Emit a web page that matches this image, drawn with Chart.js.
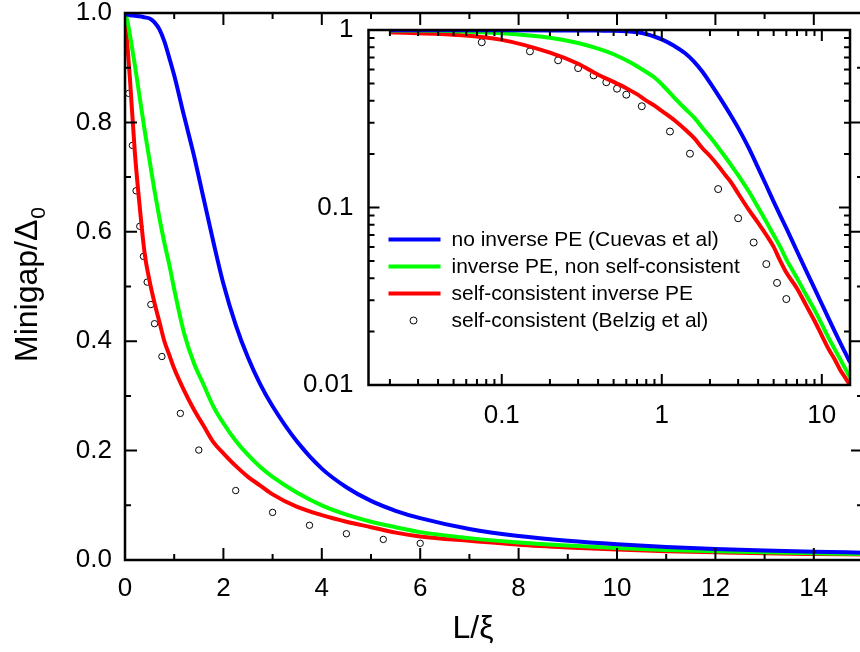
<!DOCTYPE html>
<html>
<head>
<meta charset="utf-8">
<script src="https://cdn.jsdelivr.net/npm/chart.js@4.4.1/dist/chart.umd.min.js"></script>
<style>
  html, body { margin: 0; padding: 0; background: #fff; overflow: hidden; }
  #wrap { position: relative; width: 860px; height: 652px; overflow: hidden; }
  #main { position: absolute; left: 0; top: 0; }
  #inset { position: absolute; left: 280px; top: 15px; }
</style>
</head>
<body>
<div id="wrap">
  <canvas id="main" width="870" height="652"></canvas>
  <canvas id="inset" width="580" height="420"></canvas>
</div>
<script>
// L/xi grid shared by the three computed curves
const xCurve = [0, 0.02, 0.05, 0.1, 0.2, 0.3, 0.4, 0.5, 0.6, 0.7, 0.8, 0.9, 1.0, 1.2, 1.4, 1.6, 1.8, 2.0,
    2.25, 2.5, 2.75, 3.0, 3.5, 4.0, 4.5, 5.0, 5.5, 6.0, 7.0, 8.0, 9.0, 10.0, 11.0, 12.0, 13.0, 14.0, 15.0];

// Minigap / Delta0
const yNoInverse = [1.0, 0.998, 0.997, 0.996, 0.995, 0.994, 0.992, 0.99, 0.983, 0.97, 0.948, 0.918, 0.886,
    0.812, 0.74, 0.66, 0.58, 0.505, 0.43, 0.37, 0.321, 0.281, 0.216, 0.167, 0.133, 0.108, 0.09, 0.0765,
    0.0567, 0.0438, 0.035, 0.0286, 0.0238, 0.0202, 0.0174, 0.0152, 0.0134];
const yInverseNonSC = [1.0, 0.995, 0.985, 0.96, 0.905, 0.845, 0.785, 0.73, 0.675, 0.625, 0.58, 0.54, 0.495,
    0.415, 0.36, 0.32, 0.28, 0.25, 0.218, 0.192, 0.17, 0.152, 0.123, 0.1, 0.083, 0.07, 0.06, 0.051,
    0.04, 0.032, 0.0265, 0.022, 0.0185, 0.016, 0.014, 0.0124, 0.011];
const yInverseSC = [1.0, 0.97, 0.94, 0.88, 0.745, 0.645, 0.56, 0.51, 0.47, 0.435, 0.40, 0.375, 0.35,
    0.31, 0.275, 0.245, 0.215, 0.195, 0.172, 0.152, 0.136, 0.12, 0.097, 0.082, 0.07, 0.06, 0.05, 0.043,
    0.035, 0.028, 0.023, 0.019, 0.016, 0.014, 0.0122, 0.011, 0.01];

// Belzig et al (open circles)
const xBelzig = [0.075, 0.15, 0.225, 0.3, 0.375, 0.45, 0.525, 0.6, 0.75, 1.125, 1.5, 2.25, 3.0, 3.75, 4.5, 5.25, 6.0];
const yBelzig = [0.853, 0.758, 0.675, 0.61, 0.555, 0.508, 0.467, 0.432, 0.372, 0.268, 0.201, 0.127, 0.087,
    0.0635, 0.048, 0.0376, 0.0305];

const seriesLabels = ['no inverse PE (Cuevas et al)', 'inverse PE, non self-consistent',
    'self-consistent inverse PE', 'self-consistent (Belzig et al)'];
const seriesColors = ['#0000ff', '#00ff00', '#ff0000', '#000000'];

const mainXMajor = [0, 2, 4, 6, 8, 10, 12, 14];
const mainXMinor = [1, 3, 5, 7, 9, 11, 13, 15];
const mainYMajor = [0, 0.2, 0.4, 0.6, 0.8, 1.0];
const mainYMinor = [0.1, 0.3, 0.5, 0.7, 0.9];
const insetXMajor = [0.1, 1, 10];
const insetXMinor = [0.02, 0.03, 0.04, 0.05, 0.06, 0.07, 0.08, 0.09, 0.2, 0.3, 0.4, 0.5, 0.6, 0.7, 0.8, 0.9,
    2, 3, 4, 5, 6, 7, 8, 9];
const insetYMajor = [0.01, 0.1, 1];
const insetYMinor = [0.02, 0.03, 0.04, 0.05, 0.06, 0.07, 0.08, 0.09, 0.2, 0.3, 0.4, 0.5, 0.6, 0.7, 0.8, 0.9];

const FONT = "'Liberation Sans', Arial, sans-serif";

const toPoints = (xs, ys) => xs.map((x, i) => ({ x: x, y: ys[i] }));

function buildDatasets(logX, circleRadius) {
    const keep = p => !logX || p.x > 0;
    const curves = [yNoInverse, yInverseNonSC, yInverseSC].map((ys, i) => ({
        label: seriesLabels[i],
        data: toPoints(xCurve, ys).filter(keep),
        borderColor: seriesColors[i],
        backgroundColor: seriesColors[i],
        borderWidth: 4,
        pointRadius: 0,
        cubicInterpolationMode: 'monotone',
        fill: false
    }));
    curves.push({
        label: seriesLabels[3],
        data: toPoints(xBelzig, yBelzig),
        showLine: false,
        pointRadius: circleRadius,
        pointStyle: 'circle',
        pointBorderColor: '#000',
        pointBackgroundColor: 'rgba(255,255,255,0)',
        pointBorderWidth: 1
    });
    return curves;
}

// keep the chart area exactly where the layout padding puts it
function pinScale(size, key) {
    return s => {
        s[key] = size;
        s.paddingTop = 0; s.paddingBottom = 0; s.paddingLeft = 0; s.paddingRight = 0;
    };
}

// Inward ticks on all four sides plus the box
function frameTicks(chart, cfg) {
    const { ctx, chartArea: a, scales: { x, y } } = chart;
    ctx.save();
    ctx.strokeStyle = '#000';
    ctx.lineWidth = cfg.tickWidth;
    ctx.beginPath();
    const xt = (vals, len) => vals.forEach(v => {
        const px = x.getPixelForValue(v);
        if (px < a.left - 0.5 || px > a.right + 0.5) return;
        ctx.moveTo(px, a.bottom); ctx.lineTo(px, a.bottom - len);
        ctx.moveTo(px, a.top); ctx.lineTo(px, a.top + len);
    });
    const yt = (vals, len) => vals.forEach(v => {
        const py = y.getPixelForValue(v);
        ctx.moveTo(a.left, py); ctx.lineTo(a.left + len, py);
        ctx.moveTo(a.right, py); ctx.lineTo(a.right - len, py);
    });
    xt(cfg.xMajor, cfg.major); xt(cfg.xMinor, cfg.minor);
    yt(cfg.yMajor, cfg.major); yt(cfg.yMinor, cfg.minor);
    ctx.stroke();
    ctx.lineWidth = cfg.boxWidth;
    ctx.strokeRect(a.left, a.top, a.right - a.left, a.bottom - a.top);
    ctx.restore();
}

const mainFrame = {
    id: 'mainFrame',
    afterDraw(chart) {
        frameTicks(chart, { xMajor: mainXMajor, xMinor: mainXMinor, yMajor: mainYMajor, yMinor: mainYMinor,
            major: 12, minor: 6, tickWidth: 2, boxWidth: 2.5 });
        const ctx = chart.ctx;
        ctx.save();
        ctx.fillStyle = '#000';
        ctx.font = '32px ' + FONT;
        ctx.textAlign = 'center';
        ctx.textBaseline = 'alphabetic';
        ctx.fillText('L/ξ', 473, 638);
        ctx.translate(37, 362);
        ctx.rotate(-Math.PI / 2);
        ctx.textAlign = 'left';
        ctx.fillText('Minigap/Δ', 0, 0);
        const w = ctx.measureText('Minigap/Δ').width;
        ctx.font = '21px ' + FONT;
        ctx.fillText('0', w + 1, 8);
        ctx.restore();
    }
};

const insetFrame = {
    id: 'insetFrame',
    beforeDatasetsDraw(chart) {
        const { ctx, chartArea: a } = chart;
        ctx.save();
        ctx.fillStyle = '#fff';
        ctx.fillRect(a.left, a.top, a.right - a.left, a.bottom - a.top);
        ctx.restore();
    },
    afterDraw(chart) {
        frameTicks(chart, { xMajor: insetXMajor, xMinor: insetXMinor, yMajor: insetYMajor, yMinor: insetYMinor,
            major: 11, minor: 6, tickWidth: 2, boxWidth: 2.5 });
        // legend inside the inset
        const { ctx, chartArea: a } = chart;
        ctx.save();
        ctx.font = '21px ' + FONT;
        ctx.textBaseline = 'middle';
        ctx.textAlign = 'left';
        seriesLabels.forEach((label, i) => {
            const yy = a.top + 209.5 + i * 27;
            if (i < 3) {
                ctx.strokeStyle = seriesColors[i];
                ctx.lineWidth = 4;
                ctx.beginPath();
                ctx.moveTo(a.left + 20, yy);
                ctx.lineTo(a.left + 72, yy);
                ctx.stroke();
            } else {
                ctx.strokeStyle = '#000';
                ctx.lineWidth = 1;
                ctx.beginPath();
                ctx.arc(a.left + 45, yy, 3.5, 0, Math.PI * 2);
                ctx.stroke();
            }
            ctx.fillStyle = '#000';
            ctx.fillText(label, a.left + 83, yy + 1);
        });
        ctx.restore();
    }
};

const decadeLabel = v => {
    const e = Math.round(Math.log10(v));
    if (Math.abs(Math.log10(v) - e) > 1e-6) return '';
    return e >= 0 ? String(Math.pow(10, e)) : Math.pow(10, e).toFixed(-e);
};

new Chart(document.getElementById('main'), {
    type: 'line',
    data: { datasets: buildDatasets(false, 3.2) },
    options: {
        responsive: false,
        animation: false,
        layout: { padding: { left: 0, top: 13, right: 7, bottom: 0 }, autoPadding: false },
        plugins: { legend: { display: false }, tooltip: { enabled: false } },
        scales: {
            x: {
                type: 'linear', min: 0, max: 15,
                grid: { display: false, drawTicks: false },
                border: { display: false },
                ticks: {
                    stepSize: 2, autoSkip: false, maxRotation: 0, padding: 13, color: '#000',
                    font: { family: FONT, size: 26 },
                    callback: v => (v % 2 === 0 ? String(v) : '')
                },
                afterFit: pinScale(92, 'height')
            },
            y: {
                type: 'linear', min: 0, max: 1,
                grid: { display: false, drawTicks: false },
                border: { display: false },
                ticks: {
                    stepSize: 0.2, autoSkip: false, padding: 13, color: '#000',
                    font: { family: FONT, size: 26 },
                    callback: v => v.toFixed(1)
                },
                afterFit: pinScale(125, 'width')
            }
        }
    },
    plugins: [mainFrame]
});

new Chart(document.getElementById('inset'), {
    type: 'line',
    data: { datasets: buildDatasets(true, 3.5) },
    options: {
        responsive: false,
        animation: false,
        layout: { padding: { left: 0, top: 15, right: 10, bottom: 0 }, autoPadding: false },
        plugins: { legend: { display: false }, tooltip: { enabled: false } },
        scales: {
            x: {
                type: 'logarithmic', min: 0.0147, max: 15,
                grid: { display: false, drawTicks: false },
                border: { display: false },
                ticks: {
                    autoSkip: false, maxRotation: 0, padding: 15, color: '#000',
                    font: { family: FONT, size: 26 },
                    callback: decadeLabel
                },
                afterFit: pinScale(50, 'height')
            },
            y: {
                type: 'logarithmic', min: 0.01, max: 1,
                grid: { display: false, drawTicks: false },
                border: { display: false },
                ticks: {
                    autoSkip: false, padding: 15, color: '#000',
                    font: { family: FONT, size: 26 },
                    callback: decadeLabel
                },
                afterFit: pinScale(88.5, 'width')
            }
        }
    },
    plugins: [insetFrame]
});
</script>
</body>
</html>
